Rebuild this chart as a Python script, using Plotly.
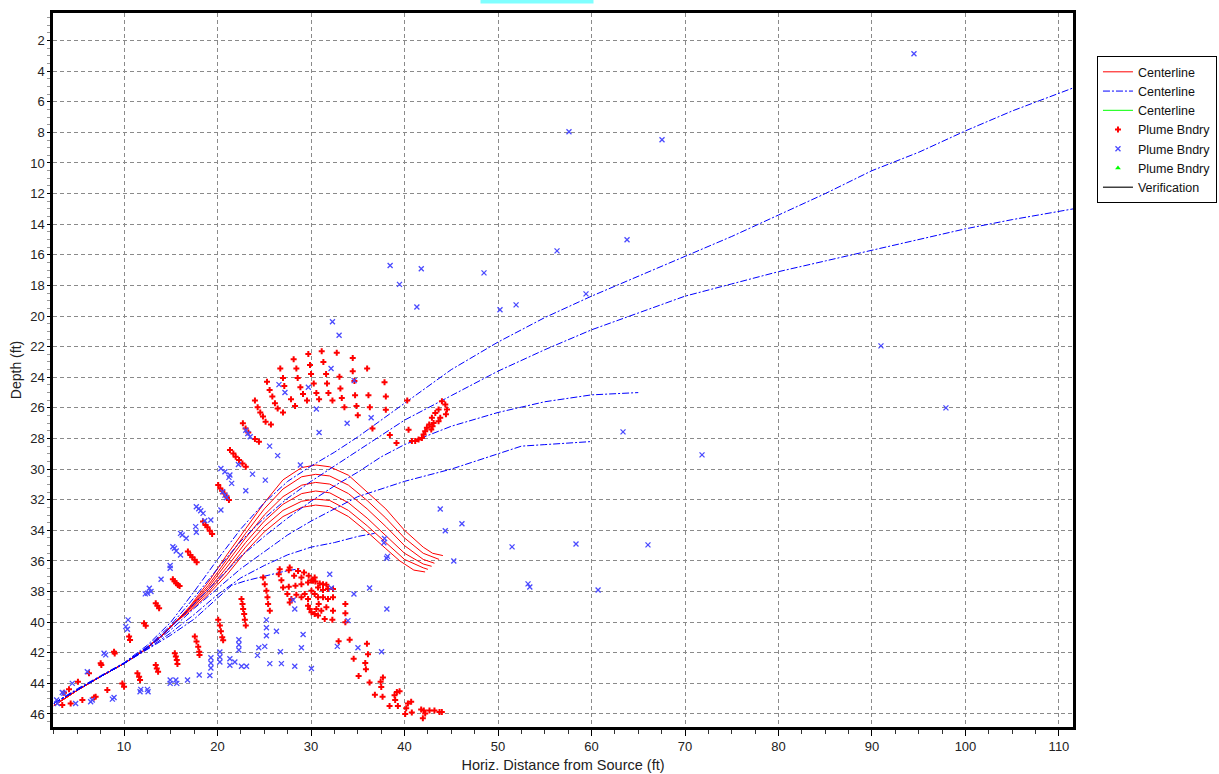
import plotly.graph_objects as go

# ---------------- data (x = horiz. distance ft, d = depth ft) ----------------
red_cl_1_x = [2.5, 5, 7.5, 10, 12, 14, 15.5, 17, 19, 21, 23, 25, 27, 29, 30.5, 32, 34, 36, 38, 40, 42, 43, 44.1]
red_cl_1_y = [45.45, 44.45, 43.55, 42.7, 41.9, 40.9, 40.0, 39.0, 37.4, 35.6, 33.9, 32.2, 30.7, 29.9, 29.73, 29.85, 30.4, 31.5, 32.6, 34.0, 35.1, 35.5, 35.65]
red_cl_2_x = [2.5, 5, 7.5, 10, 12, 14, 15.5, 17, 19, 21, 23, 25, 27, 29, 30.5, 32, 34, 36, 38, 40, 42, 43.7]
red_cl_2_y = [45.45, 44.45, 43.55, 42.7, 41.9, 40.9, 40.0, 39.05, 37.6, 35.9, 34.2, 32.6, 31.3, 30.5, 30.34, 30.45, 31.05, 32.05, 33.2, 34.5, 35.5, 35.9]
red_cl_3_x = [2.5, 5, 7.5, 10, 12, 14, 15.5, 17, 19, 21, 23, 25, 27, 29, 30.5, 32, 34, 36, 38, 40, 42, 43.2]
red_cl_3_y = [45.45, 44.45, 43.55, 42.7, 41.9, 40.9, 40.0, 39.1, 37.75, 36.15, 34.5, 33.0, 31.8, 31.05, 30.87, 30.98, 31.6, 32.6, 33.75, 35.0, 35.9, 36.15]
red_cl_4_x = [2.5, 5, 7.5, 10, 12, 14, 15.5, 17, 19, 21, 23, 25, 27, 29, 30.5, 32, 34, 36, 38, 40, 42, 42.9]
red_cl_4_y = [45.45, 44.45, 43.55, 42.7, 41.9, 40.9, 40.0, 39.15, 37.9, 36.4, 34.8, 33.4, 32.3, 31.6, 31.43, 31.55, 32.2, 33.2, 34.35, 35.5, 36.2, 36.35]
red_cl_5_x = [2.5, 5, 7.5, 10, 12, 14, 15.5, 17, 19, 21, 23, 25, 27, 29, 30.5, 32, 34, 36, 38, 40, 42, 42.5]
red_cl_5_y = [45.45, 44.45, 43.55, 42.7, 41.9, 40.9, 40.0, 39.2, 38.05, 36.65, 35.1, 33.75, 32.7, 32.1, 31.96, 32.05, 32.7, 33.7, 34.8, 35.9, 36.45, 36.55]
red_cl_6_x = [2.5, 5, 7.5, 10, 12, 14, 15.5, 17, 19, 21, 23, 25, 27, 29, 30.5, 32, 34, 36, 38, 39.5, 41, 42.2]
red_cl_6_y = [45.45, 44.45, 43.55, 42.7, 41.9, 40.9, 40.0, 39.3, 38.2, 36.9, 35.4, 34.1, 33.1, 32.5, 32.35, 32.45, 33.1, 34.1, 35.2, 36.0, 36.6, 36.72]

blue_cl_1_x = [2.5, 5, 7.5, 10, 12.5, 15, 17.5, 20, 22.5, 25, 27.5, 30, 32.5, 35, 40, 45, 50, 55, 60, 65, 70, 75, 80, 85, 90, 95, 100, 105, 111.5]
blue_cl_1_y = [45.3, 44.35, 43.5, 42.65, 41.5, 40.0, 38.0, 35.9, 33.9, 32.2, 30.8, 29.8, 28.9, 27.9, 25.7, 23.5, 21.7, 20.1, 18.7, 17.4, 16.1, 14.8, 13.4, 12.0, 10.5, 9.3, 7.9, 6.6, 5.1]
blue_cl_2_x = [2.5, 5, 7.5, 10, 12.5, 15, 17.5, 20, 22.5, 25, 27.5, 30, 32.5, 35, 40, 45, 50, 55, 60, 65, 70, 75, 80, 85, 90, 95, 100, 105, 111.5]
blue_cl_2_y = [45.3, 44.4, 43.55, 42.7, 41.6, 40.2, 38.4, 36.5, 34.7, 33.2, 31.9, 30.8, 29.8, 28.8, 26.8, 25.2, 23.6, 22.2, 20.9, 19.8, 18.7, 17.9, 17.1, 16.4, 15.7, 15.0, 14.3, 13.7, 13.0]
blue_cl_3_x = [2.5, 5, 7.5, 10, 12.5, 15, 17.5, 20, 22.5, 25, 27.5, 30, 32.5, 35, 37.5, 40, 45, 50, 55, 60, 65]
blue_cl_3_y = [45.3, 44.4, 43.55, 42.7, 41.65, 40.35, 38.8, 37.2, 35.7, 34.4, 33.2, 32.1, 31.1, 30.2, 29.2, 28.4, 27.2, 26.3, 25.6, 25.15, 25.0]
blue_cl_4_x = [2.5, 5, 7.5, 10, 12.5, 15, 17.5, 20, 22.5, 25, 27.5, 30, 32.5, 35, 40, 45, 50, 52.5, 55, 60]
blue_cl_4_y = [45.3, 44.4, 43.55, 42.7, 41.7, 40.5, 39.1, 37.8, 36.5, 35.4, 34.3, 33.4, 32.6, 31.8, 30.8, 30.0, 29.0, 28.5, 28.4, 28.2]
blue_cl_5_x = [2.5, 5, 7.5, 10, 12.5, 15, 17.5, 20, 22.5, 25, 27.5, 30, 32.5, 35, 36.8]
blue_cl_5_y = [45.3, 44.4, 43.55, 42.7, 41.75, 40.7, 39.5, 38.2, 37.1, 36.3, 35.6, 35.1, 34.8, 34.4, 34.2]
blue_cl_6_x = [2.5, 5, 7.5, 10, 12.5, 15, 17.5, 20, 21.5, 23, 25, 27, 28.8]
blue_cl_6_y = [45.3, 44.4, 43.55, 42.7, 41.8, 40.85, 39.8, 38.4, 37.6, 37.3, 37.0, 36.7, 36.5]

red_bndry_x = [
    31.14, 29.71, 32.75, 28.14, 34.46, 31.32, 29.89, 26.71, 28.43, 36.0, 34.46, 33.04, 31.61, 30.0, 27.0, 28.57,
    25.29, 27.14, 25.57, 28.86, 30.29, 31.71, 33.14, 34.64, 37.86, 25.86, 27.86, 29.14, 30.57, 31.86, 33.29, 34.71,
    36.14, 38.0, 24.0, 26.14, 29.57, 30.86, 32.29, 33.57, 34.86, 36.29, 38.0, 24.29, 26.43, 28.29, 24.57, 27.0,
    24.86, 25.14, 25.71, 22.71, 23.0, 23.29, 24.0, 24.43, 35.0, 36.57, 38.43, 39.14, 40.29, 40.43,
    44.0, 44.36, 44.54, 44.43, 43.64, 43.29, 43.82, 43.64, 42.93, 43.11, 42.64, 42.39, 42.86, 42.21, 42.04, 41.86,
    41.5, 41.14, 40.79, 43.0,
    21.33, 21.69, 21.94, 22.3, 22.66, 23.02, 20.07, 20.29, 20.5, 20.72, 20.97, 21.22,
    18.45, 18.71, 18.92, 19.17, 19.42, 16.83, 17.09, 17.3, 17.55, 17.77, 15.22, 15.4, 15.58, 15.76, 15.94,
    13.39, 13.57, 13.75, 12.14, 12.32, 10.54, 10.64, 8.93, 9.0, 7.5, 7.57, 6.25, 5.07, 4.11, 3.57,
    17.57, 17.75, 17.93, 18.04, 18.07, 15.43, 15.54, 15.64, 15.71, 13.39, 13.5, 13.64, 11.43, 11.61, 11.71,
    9.82, 10.0, 8.21, 6.79, 6.96, 5.54, 4.29, 3.39,
    26.65, 27.72, 27.62, 28.61, 29.25, 26.55, 28.19, 28.97, 29.75, 26.83, 27.01, 27.62, 28.33, 28.97, 29.68, 30.04,
    30.46, 30.93, 31.28, 31.64, 30.39, 30.21, 30.75, 31.28, 31.81, 32.35, 27.47, 27.9, 28.43, 28.97, 29.32, 29.68,
    30.04, 30.39, 30.75, 31.28, 31.81, 32.35, 27.72, 29.68, 29.86, 30.04, 30.39, 30.75, 30.57, 30.82, 31.1, 31.64,
    31.46, 32.35, 32.28, 33.67, 33.67, 33.67, 24.88, 25.05, 25.23, 25.34, 25.41, 25.59, 22.56, 22.67, 22.74, 22.85,
    22.92, 23.02, 20.07, 20.25, 20.36, 20.5, 20.6,
    32.95, 34.13, 35.98, 36.09, 34.56, 35.8, 35.87, 35.09, 36.26, 36.83, 37.51, 37.69, 37.44, 37.65, 38.93, 39.18,
    39.47, 39.0, 38.4, 39.29, 40.36, 40.71, 40.18, 40.07, 40.78, 41.78, 42.06, 42.21, 41.96, 42.67, 43.2, 43.74, 43.99,
]
red_bndry_y = [
    22.30, 22.48, 22.39, 22.83, 22.74, 23.0, 23.2, 23.43, 23.43, 23.43, 23.61, 23.96, 23.78, 23.78, 24.04, 24.04,
    24.3, 24.57, 24.83, 24.65, 24.41, 24.41, 24.74, 24.24, 24.33, 25.26, 25.43, 25.09, 25.02, 25.02, 25.35, 25.17,
    25.17, 25.26, 25.52, 25.70, 25.52, 25.43, 25.52, 25.96, 25.87, 25.96, 26.13, 25.96, 26.04, 25.87, 26.30, 26.30,
    26.57, 26.91, 27.09, 27.0, 27.35, 27.61, 28.04, 28.22, 26.48, 27.35, 27.78, 28.30, 25.52, 27.43,
    25.57, 25.78, 26.11, 26.41, 26.11, 26.33, 26.65, 26.87, 26.65, 26.98, 27.09, 27.30, 27.41, 27.52, 27.74, 27.96,
    28.07, 28.17, 28.17, 27.2,
    28.76, 28.98, 29.2, 29.41, 29.63, 29.85, 31.04, 31.26, 31.41, 31.59, 31.8, 32.02,
    33.43, 33.65, 33.8, 34.02, 34.24, 35.39, 35.61, 35.76, 35.93, 36.09, 37.2, 37.33, 37.46, 37.57, 37.63,
    38.76, 38.93, 39.09, 40.07, 40.24, 40.94, 41.16, 41.93, 42.04, 42.69, 42.8, 43.34, 43.89, 44.39, 44.61,
    40.94, 41.27, 41.6, 41.93, 42.14, 42.03, 42.25, 42.47, 42.73, 42.8, 43.02, 43.24, 43.34, 43.56, 43.78,
    44.0, 44.22, 44.44, 44.92, 44.88, 45.09, 45.31, 45.42,
    36.54, 36.43, 36.61, 36.65, 36.76, 36.87, 36.97, 37.08, 36.97, 37.26, 37.73, 37.69, 37.62, 37.52, 37.41, 37.26,
    37.34, 37.47, 37.52, 37.56, 37.08, 37.3, 37.73, 37.9, 37.84, 37.84, 38.16, 38.49, 38.21, 38.38, 38.16, 38.49,
    37.95, 38.16, 38.38, 38.38, 38.49, 38.38, 38.71, 38.92, 39.14, 39.35, 39.46, 39.57, 39.14, 38.81, 39.25, 39.03,
    39.79, 39.25, 39.85, 38.81, 39.42, 40.0, 37.08, 37.52, 37.95, 38.38, 38.81, 39.25, 38.49, 38.81, 39.14, 39.46,
    39.85, 40.22, 39.85, 40.22, 40.59, 40.98, 41.19,
    41.24, 41.15, 41.41, 42.1, 42.39, 42.67, 43.08, 43.51, 43.94, 44.74, 44.23, 43.62, 43.9, 44.87, 44.77, 44.57,
    44.51, 45.09, 45.48, 45.48, 45.31, 45.2, 45.63, 46.0, 45.91, 45.7, 45.78, 45.96, 46.28, 45.78, 45.78, 45.87, 45.87,
]

blue_bndry_x = [
    38.46, 41.79, 39.46, 41.32, 32.29, 33.0, 32.14, 34.61, 26.57, 27.21, 29.71, 30.57, 33.86, 36.43, 30.86, 25.57,
    23.02, 23.24, 23.49, 22.23, 20.36, 20.79, 21.22, 21.51, 23.74, 25.11, 23.02, 20.54, 20.79, 20.97, 20.36,
    17.73, 17.99, 18.2, 18.45, 18.63, 19.28, 17.66, 17.73, 16.04, 16.22, 16.65, 15.22, 15.4, 15.58, 16.04,
    14.93, 14.93, 13.96, 12.7, 12.88, 12.52, 12.27,
    10.18, 10.36, 10.43, 7.86, 8.04, 6.07, 4.46, 3.39, 3.57, 6.43, 6.6, 4.82, 8.75, 8.93, 11.71, 11.79, 12.57, 12.5,
    14.93, 14.93, 15.54, 15.64, 16.79, 18.04, 2.79, 2.86,
    32.0, 32.17, 34.59, 36.26, 38.11, 33.95, 35.02, 32.81, 37.54, 45.27, 38.08, 37.79, 28.08, 28.26, 29.15, 28.97,
    30.04, 28.26, 26.83, 25.59, 24.27, 24.41, 25.05, 26.73, 25.23, 25.23, 25.23, 26.3, 22.28, 22.28, 22.28, 21.32,
    21.85, 21.32, 22.56, 23.1, 20.25, 20.25, 20.25, 19.29, 19.29, 19.29, 19.18,
    26.43, 28.86, 21.32, 43.82, 46.14, 44.36, 37.86, 38.18,
    94.49, 57.59, 67.54, 48.5, 50.21, 51.93, 56.31, 59.41, 63.8, 90.96, 97.91, 63.37, 71.82, 51.5, 58.34, 66.04,
    53.21, 53.4, 60.7,
]
blue_bndry_y = [
    16.7, 16.91, 17.93, 19.41, 20.37, 21.26, 23.43, 24.22, 24.48, 25.0, 24.65, 26.07, 27.0, 26.65, 27.61, 28.5,
    27.46, 27.67, 27.89, 29.7, 29.96, 30.17, 30.54, 30.93, 30.33, 30.72, 31.41, 31.48, 31.7, 31.85, 32.67,
    32.46, 32.59, 32.72, 32.89, 33.37, 33.33, 33.76, 34.13, 34.2, 34.3, 34.52, 35.07, 35.17, 35.35, 35.61,
    36.3, 36.48, 37.2, 37.78, 38.0, 38.11, 38.15,
    40.29, 40.46, 39.85, 42.03, 42.14, 43.24, 44.0, 44.6, 44.65, 45.2, 45.09, 45.31, 45.03, 44.92, 44.55, 44.39, 44.55, 44.39,
    43.78, 44.0, 43.78, 44.0, 43.78, 43.45, 45.09, 45.31,
    36.87, 37.77, 38.16, 37.77, 39.14, 39.9, 41.67, 41.58, 41.93, 36.0, 35.83, 34.81, 38.55, 39.14, 40.81, 41.67,
    43.03, 42.88, 42.71, 42.71, 42.17, 41.67, 41.58, 41.93, 39.85, 40.37, 40.89, 40.59, 41.15, 41.48, 41.82, 42.39,
    42.6, 42.82, 42.88, 42.88, 41.95, 42.28, 42.6, 42.32, 42.67, 42.99, 43.49,
    29.12, 29.73, 30.39, 32.61, 33.57, 34.03, 34.53, 35.7,
    2.86, 7.96, 8.48, 17.18, 19.59, 19.27, 15.74, 18.55, 15.02, 21.95, 26.0, 27.57, 29.07, 35.08, 34.89, 34.95,
    37.5, 37.7, 37.9,
]

x_range = [2.4, 111.5]
y_range = [46.85, 0.2]
y_ticks = list(range(2, 47, 2))

RED = "#ff0000"
BLUE = "#0000ff"
BLUE_X = "#4a4aff"
GREEN = "#00ff00"
FONT = "Liberation Sans, Arial, sans-serif"

fig = go.Figure()

red_lines = [(red_cl_1_x, red_cl_1_y), (red_cl_2_x, red_cl_2_y), (red_cl_3_x, red_cl_3_y),
             (red_cl_4_x, red_cl_4_y), (red_cl_5_x, red_cl_5_y), (red_cl_6_x, red_cl_6_y)]
blue_lines = [(blue_cl_1_x, blue_cl_1_y), (blue_cl_2_x, blue_cl_2_y), (blue_cl_3_x, blue_cl_3_y),
              (blue_cl_4_x, blue_cl_4_y), (blue_cl_5_x, blue_cl_5_y), (blue_cl_6_x, blue_cl_6_y)]

for i, (xs, ys) in enumerate(red_lines):
    fig.add_trace(go.Scatter(x=xs, y=ys, mode="lines", name="Centerline", legendgroup="rc",
                             showlegend=(i == 0), line=dict(color=RED, width=1), legendrank=1))
for i, (xs, ys) in enumerate(blue_lines):
    fig.add_trace(go.Scatter(x=xs, y=ys, mode="lines", name="Centerline", legendgroup="bc",
                             showlegend=(i == 0), line=dict(color=BLUE, width=1, dash="7px,2px,2px,2px"),
                             legendrank=2))
fig.add_trace(go.Scatter(x=[None], y=[None], mode="lines", name="Centerline",
                         line=dict(color=GREEN, width=1), legendrank=3))
fig.add_trace(go.Scatter(x=red_bndry_x, y=red_bndry_y, mode="markers", name="Plume Bndry",
                         marker=dict(symbol="cross", size=5, color=RED), legendrank=4))
fig.add_trace(go.Scatter(x=blue_bndry_x, y=blue_bndry_y, mode="markers", name="Plume Bndry",
                         marker=dict(symbol="x-thin", size=5, color=BLUE_X,
                                     line=dict(color=BLUE_X, width=1.3)), legendrank=5))
fig.add_trace(go.Scatter(x=[None], y=[None], mode="markers", name="Plume Bndry",
                         marker=dict(symbol="triangle-up", size=5, color=GREEN), legendrank=6))
fig.add_trace(go.Scatter(x=[None], y=[None], mode="lines", name="Verification",
                         line=dict(color="#404040", width=1.5), legendrank=7))

fig.update_layout(
    width=1219, height=774,
    margin=dict(l=53, r=146, t=13, b=47, autoexpand=False),
    paper_bgcolor="white", plot_bgcolor="white",
    font=dict(family=FONT, size=13, color="#222222"),
    showlegend=True,
    legend=dict(x=1.0235, y=0.9395, xanchor="left", yanchor="top",
                bordercolor="black", borderwidth=1, bgcolor="white",
                font=dict(family=FONT, size=12.5, color="#111111"),
                itemwidth=30, tracegroupgap=0, traceorder="normal"),
    annotations=[dict(text="Plume Elevation", xref="paper", yref="paper", x=0.4745, y=1.0126,
                      xanchor="center", yanchor="bottom", showarrow=False, bgcolor="#80ffff",
                      width=110, height=18, font=dict(family=FONT, size=12, color="#003399"))],
)
fig.update_xaxes(
    range=x_range, tick0=10, dtick=10, showgrid=True, gridcolor="#8a8a8a", griddash="4px,3px", gridwidth=1,
    showline=True, linecolor="black", linewidth=2.5, mirror=True, zeroline=False,
    ticks="outside", ticklen=6, tickcolor="black",
    minor=dict(dtick=2.5, tick0=0, ticks="outside", ticklen=4, tickcolor="#333333", showgrid=False),
    title=dict(text="Horiz. Distance from Source (ft)", standoff=7, font=dict(size=14.5)),
    tickfont=dict(size=13),
)
fig.update_yaxes(
    range=y_range, tickvals=y_ticks, showgrid=True, gridcolor="#8a8a8a", griddash="4px,3px", gridwidth=1,
    showline=True, linecolor="black", linewidth=2.5, mirror=True, zeroline=False,
    ticks="outside", ticklen=3, tickcolor="black",
    minor=dict(dtick=0.5, tick0=0, ticks="outside", ticklen=3, tickcolor="#999999", showgrid=False),
    title=dict(text="Depth (ft)", standoff=6, font=dict(size=14)),
    tickfont=dict(size=13),
)

fig.write_html("out.html")
